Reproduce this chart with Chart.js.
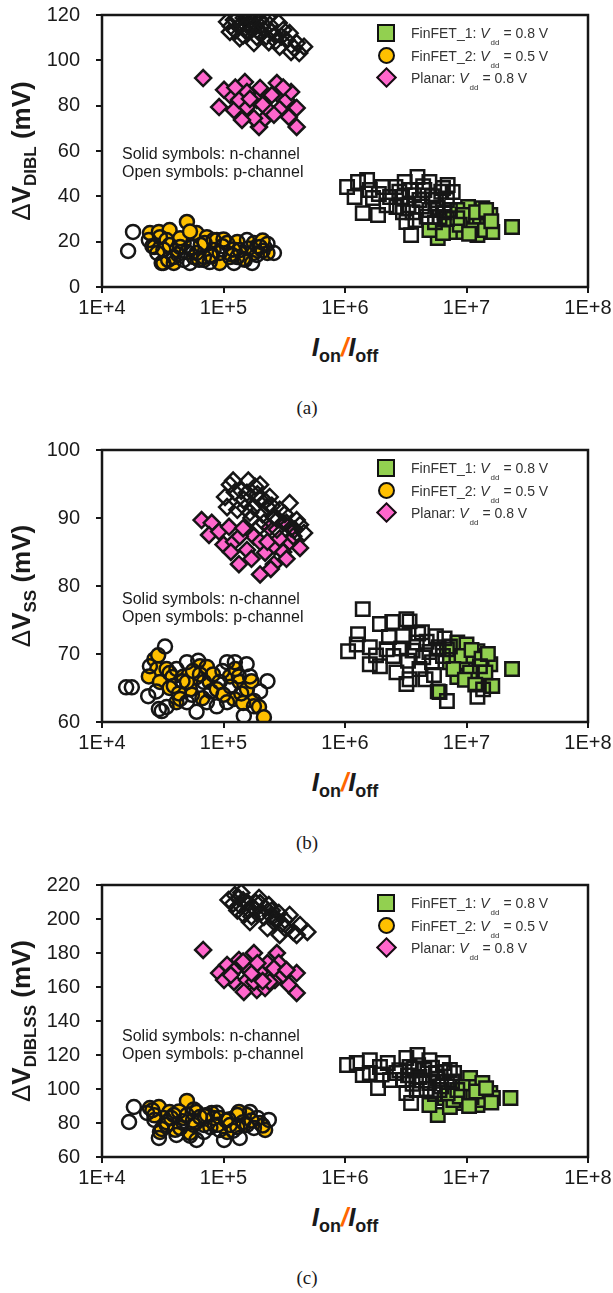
<!DOCTYPE html>
<html>
<head>
<meta charset="utf-8">
<script src="https://cdn.jsdelivr.net/npm/chart.js@4.4.0/dist/chart.umd.min.js"></script>
<style>
body { margin: 0; background: #fff; width: 613px; height: 1293px; position: relative; overflow: hidden;
       font-family: "Liberation Sans", Arial, sans-serif; color: #1a1a1a; }
.panel { position: absolute; left: 0; width: 613px; height: 430px; }
.panel canvas { position: absolute; left: 0; top: 0; }
.ytitle { position: absolute; left: -129px; top: 136px; width: 300px; height: 30px; line-height: 30px;
          text-align: center; transform: rotate(-90deg); font-weight: bold; font-size: 26px; white-space: nowrap; }
.ytitle .dl { font-weight: normal; }
.ytitle .ysub { font-size: 17px; position: relative; top: 6px; }
.xtitle { position: absolute; left: 195px; top: 332px; width: 300px; line-height: 30px; text-align: center;
          font-weight: bold; font-size: 26px; white-space: nowrap; }
.xtitle .xs { font-size: 18px; font-style: normal; position: relative; top: 6px; }
.xtitle .sl { color: #ff6600; }
.note { position: absolute; left: 122px; font-size: 16px; line-height: 18px; white-space: nowrap; }
.cap { position: absolute; left: 257px; top: 397px; width: 100px; text-align: center;
       font-family: "Liberation Serif", "Times New Roman", serif; font-size: 19px; line-height: 22px; }
.leg { position: absolute; left: 0; top: 0; }
.lrow { position: absolute; left: 0; height: 22px; width: 613px; }
.ltxt { position: absolute; left: 411px; top: 0; line-height: 22px; font-size: 14px; color: #333; white-space: nowrap; }
.ltxt sub { font-size: 8px; vertical-align: -7px; margin-left: 1px; }
.mk { position: absolute; box-sizing: border-box; border: 2.5px solid #111; }
</style>
</head>
<body>

<div class="panel" id="pA" style="top:0px">
  <canvas id="cA" width="613" height="330"></canvas>
  <div class="ytitle"><span class="dl">Δ</span>V<span class="ysub">DIBL</span> (mV)</div>
  <div class="xtitle"><i>I</i><span class="xs">on</span><i class="sl">/</i><i>I</i><span class="xs">off</span></div>
  <div class="note" style="top:145px">Solid symbols: n-channel<br>Open symbols: p-channel</div>
  <div class="cap">(a)</div>
</div>

<div class="panel" id="pB" style="top:435px">
  <canvas id="cB" width="613" height="330"></canvas>
  <div class="ytitle"><span class="dl">Δ</span>V<span class="ysub">SS</span> (mV)</div>
  <div class="xtitle"><i>I</i><span class="xs">on</span><i class="sl">/</i><i>I</i><span class="xs">off</span></div>
  <div class="note" style="top:155px">Solid symbols: n-channel<br>Open symbols: p-channel</div>
  <div class="cap">(b)</div>
</div>

<div class="panel" id="pC" style="top:870px">
  <canvas id="cC" width="613" height="330"></canvas>
  <div class="ytitle"><span class="dl">Δ</span>V<span class="ysub">DIBLSS</span> (mV)</div>
  <div class="xtitle"><i>I</i><span class="xs">on</span><i class="sl">/</i><i>I</i><span class="xs">off</span></div>
  <div class="note" style="top:157px">Solid symbols: n-channel<br>Open symbols: p-channel</div>
  <div class="cap">(c)</div>
</div>

<script>
// legend entries
const seriesNames = ['FinFET_1', 'FinFET_2', 'Planar'];
const seriesVdd = ['0.8', '0.5', '0.8'];
const seriesColors = ['#92d050', '#ffc000', '#ff66cc'];

// x axis: Ion/Ioff decades
const xTicks = [1e4, 1e5, 1e6, 1e7, 1e8];

// ---- (a) delta V DIBL ----
const diblFin1N = [[5.8e6,21.6],[4.95e6,25.1],[6.6e6,27.3],[7.9e6,30.9],[9.2e6,24.3],[1.03e7,35.3],[1.14e7,30.9],
  [1.23e7,22.9],[1.35e7,34.8],[1.48e7,28.2],[1.57e7,31.8],[1.63e7,24.3],[1.0e7,28.2],[8.4e6,34],[7.3e6,24.3],
  [2.37e7,26.5],[1.29e7,25.1],[9.3e6,31.8],[6.4e6,23.8],[1.1e7,25.1],[1.2e7,33],[1.45e7,34],[8.8e6,27.5],
  [1.05e7,23.5],[1.6e7,29],[6.9e6,30]];
const diblFin1P = [[1.04e6,44.1],[1.28e6,46.3],[1.52e6,47.2],[1.6e6,42.8],[1.2e6,39.7],[1.4e6,32.6],[1.87e6,31.8],
  [2.05e6,44.1],[2.35e6,39.7],[2.65e6,35.3],[3.1e6,46.3],[3.95e6,48.5],[4.95e6,46.3],[6.4e6,43.7],[7.7e6,41.9],
  [3.5e6,22.9],[3.2e6,28.7],[4.1e6,38.4],[4.95e6,34],[6.0e6,30.9],[7.3e6,34],[3.6e6,33],[2.95e6,39.7],[4.5e6,42.8],
  [8.4e6,30.4],[5.6e6,38.4],[3.4e6,42.8],[1.7e6,39.3],[2.6e6,44.1],[6.9e6,38.4],[3.3e6,36],[3.7e6,40.5],
  [4.3e6,35.5],[4.7e6,31],[5.2e6,40],[5.8e6,35],[6.2e6,42],[3.8e6,29.5],[4.4e6,44.5],[2.8e6,42],[2.2e6,36],
  [1.9e6,41],[5.5e6,28.5],[6.6e6,33],[7.0e6,45],[3.0e6,33]];
const diblFin2N = [[2.48e4,23.8],[2.94e4,24.3],[3.6e4,25.1],[5.0e4,28.7],[6.0e4,23.8],[7.3e4,22],[8.8e4,20.7],
  [1.1e5,18.5],[1.3e5,19.9],[1.78e5,19.4],[2.2e5,17.2],[2.3e5,15],[3.1e4,10.6],[3.9e4,10.6],[4.1e4,16.3],
  [5.7e4,13.2],[9.3e4,10.6],[1.36e5,15],[2.7e4,17.6],[6.9e4,11.9],[4.7e4,19.4],[1.13e5,13.2],[1.78e5,15],
  [3.4e4,20.7],[8.3e4,16.3],[3.2e4,16.5],[4.4e4,21.5],[5.3e4,24.5],[6.5e4,18.5],[7.8e4,14],[1.0e5,21],
  [1.2e5,16.5],[1.5e5,12],[1.9e5,18],[2.1e5,20.5]];
const diblFin2P = [[1.64e4,15.9],[1.8e4,24.3],[2.43e4,20.7],[2.85e4,15],[3.2e4,10.6],[3.9e4,13.2],[4.4e4,17.6],
  [5.3e4,10.6],[6.0e4,15],[7.0e4,19.4],[7.7e4,11],[9.3e4,15],[1.07e5,19.4],[1.22e5,10.6],[1.36e5,16.3],
  [1.56e5,20.7],[1.72e5,10.6],[2.0e5,17.6],[2.6e5,15],[3.6e4,18.5],[5.0e4,15.4],[6.9e4,13.2],[1.3e5,13.2],
  [1.88e5,14.1],[8.3e4,20.7],[4.7e4,11.9],[2.6e4,18],[3.0e4,22],[3.5e4,12],[4.2e4,14.5],[5.5e4,17.5],[6.3e4,12],
  [8.0e4,13.5],[9.8e4,18],[1.15e5,14.5],[1.45e5,12.5],[1.6e5,17],[2.1e5,16],[2.3e5,19]];
const diblPlanarN = [[6.8e4,92.2],[9.2e4,79.4],[1.13e5,84.7],[1.22e5,78],[1.5e5,90.4],[1.56e5,86],[1.56e5,79.4],
  [1.88e5,82.5],[1.96e5,70.6],[2.2e5,74.5],[2.0e5,87.8],[2.75e5,90],[2.85e5,84.7],[3.0e5,79.4],[3.45e5,75],
  [4.0e5,70.6],[4.0e5,79],[2.35e5,78],[1.78e5,74.5],[1.42e5,73.7],[1.34e5,82.5],[1.01e5,87],[2.5e5,84.7],
  [3.3e5,82.5],[3.6e5,86],[1.65e5,83],[2.1e5,80.5],[2.6e5,76],[1.25e5,88],[3.1e5,88]];
const diblPlanarP = [[1.07e5,117],[1.22e5,117.8],[1.34e5,114.7],[1.47e5,118.7],[1.56e5,112.5],[1.72e5,116.5],
  [1.88e5,110.3],[2.0e5,117.8],[2.15e5,113.4],[2.36e5,108],[2.4e5,115.6],[2.65e5,111.2],[2.9e5,106],[3.1e5,113.4],
  [3.3e5,109],[3.6e5,103.7],[4.0e5,107.6],[4.2e5,103.2],[1.78e5,107.6],[1.36e5,109.8],[1.13e5,112.5],[1.65e5,119],
  [2.3e5,119],[2.85e5,116.5],[3.5e5,112],[4.6e5,106],[1.15e5,115],[1.25e5,113],[1.4e5,116],[1.5e5,114],
  [1.6e5,116.5],[1.45e5,111],[1.7e5,113.5],[1.85e5,115],[1.95e5,112.5],[2.1e5,116],[2.25e5,110.5],[1.3e5,118.5],
  [1.8e5,118.5],[2.5e5,112.5],[2.7e5,108.5],[3.0e5,110.5],[3.8e5,105.5]];

// ---- (b) delta V SS ----
const ssFin1N = [[8.4e6,71.7],[1.0e7,71.4],[1.23e7,70.4],[1.27e7,68.5],[1.57e7,68.5],[1.63e7,65.3],[1.23e7,66],
  [9.3e6,68.8],[8.4e6,66.6],[5.8e6,64.5],[7.3e6,68.8],[2.37e7,67.8],[1.07e7,67.3],[6.9e6,70.7],[1.43e7,67.3],
  [9.1e6,69.7],[7.8e6,67.8],[1.14e7,69.7],[1.1e7,70.6],[1.33e7,69.3],[9.7e6,66.2],[1.5e7,70],[1.18e7,65.5]];
const ssFin1P = [[1.4e6,76.6],[1.94e6,74.4],[2.45e6,74.7],[3.2e6,75.1],[3.4e6,74.8],[1.06e6,70.4],[1.28e6,72.9],
  [1.25e6,71.4],[1.6e6,68.5],[1.94e6,68.2],[2.65e6,67.3],[3.2e6,65.6],[4.3e6,73.2],[5.6e6,72.6],[3.9e6,71.7],
  [4.95e6,70.3],[2.2e6,70.7],[1.6e6,71],[6.4e6,69.7],[4.1e6,67.8],[3.4e6,66.3],[7.3e6,71.1],[3.0e6,72.6],
  [2.5e6,69.7],[6.0e6,64.4],[1.29e7,68.2],[1.37e7,64.8],[1.23e7,63.7],[6.9e6,63.1],[3.6e6,70.5],[4.4e6,69.5],
  [4.7e6,71.8],[5.2e6,68.8],[5.9e6,71],[3.3e6,69],[2.9e6,70.8],[4.0e6,73],[6.6e6,72.3],[2.3e6,72.5],[1.8e6,69.8],
  [5.4e6,66.9],[4.6e6,66.3]];
const ssFin2N = [[2.7e4,69.2],[2.85e4,67.8],[2.43e4,66.7],[3.4e4,67.8],[3.8e4,66.6],[4.7e4,66.7],[5.3e4,64.8],
  [6.4e4,68.2],[7.3e4,68.1],[6.0e4,66.6],[7.7e4,65.9],[1.13e5,66.7],[1.36e5,65.9],[1.56e5,64.8],[1.78e5,63.1],
  [1.96e5,62.2],[2.15e5,60.7],[1.22e5,63.4],[4.1e4,62.9],[8.8e4,64.8],[5.0e4,65.9],[3.0e4,65.9],[2.9e4,69.8],
  [3.6e4,65],[4.3e4,64.2],[5.6e4,67.5],[6.7e4,63.5],[8.2e4,67],[1.0e5,64],[1.25e5,67.8],[1.45e5,62.8],[1.7e5,66]];
const ssFin2P = [[1.58e4,65.1],[1.76e4,65.1],[2.4e4,63.8],[3.3e4,71.1],[2.94e4,61.9],[3.4e4,62.2],[5.0e4,68.8],
  [6.0e4,61.5],[7.3e4,62.9],[1.07e5,68.8],[1.24e5,68.8],[1.34e5,66.7],[1.65e5,66.7],[2.3e5,66],[1.78e5,62.3],
  [1.47e5,60.9],[3.9e4,65.3],[4.4e4,63.4],[9.3e4,65.9],[6.9e4,65.9],[1.07e5,62.9],[2.48e4,68.2],[5.0e4,62.9],
  [8.8e4,62.3],[4.1e4,67.8],[2.8e4,64.5],[3.6e4,67.2],[4.6e4,66],[5.5e4,64],[6.4e4,67],[7.9e4,64.5],[9.8e4,67.5],
  [1.15e5,65.2],[1.4e5,64.2],[1.55e5,68.5],[2.0e5,64.5],[6.2e4,69],[3.1e4,61.6]];
const ssPlanarN = [[6.6e4,89.7],[8.0e4,89.3],[7.6e4,87.5],[9.2e4,88],[1.0e5,86.1],[1.22e5,86.5],[1.11e5,88.7],
  [1.34e5,83.2],[1.56e5,85.3],[2.0e5,81.7],[2.2e5,84.9],[2.6e5,83.2],[1.78e5,87.3],[2.0e5,86.5],[2.65e5,85.8],
  [3.5e5,86.5],[3.85e5,88.3],[3.1e5,85],[1.36e5,87.3],[3.1e5,89.3],[2.4e5,88.6],[4.26e5,85.6],[1.15e5,85],
  [1.45e5,88.5],[1.7e5,84],[2.3e5,86.5],[2.9e5,87],[3.3e5,84],[2.45e5,82.5]];
const ssPlanarP = [[1.13e5,94.9],[1.24e5,93.8],[1.82e5,94.6],[2.0e5,94.9],[3.5e5,92.2],[1.03e5,93.1],[1.47e5,92.7],
  [1.65e5,90.8],[2.3e5,91.6],[2.6e5,90.2],[3.3e5,89.3],[4.26e5,89],[4.6e5,87.8],[4.0e5,89.7],[1.3e5,91.2],
  [1.56e5,93.7],[2.0e5,92.7],[2.4e5,93.1],[1.78e5,91.6],[2.9e5,91.2],[1.07e5,91.6],[3.75e5,87.3],[2.75e5,88.3],
  [2.15e5,89.3],[1.4e5,94],[1.6e5,95.5],[1.9e5,93.5],[2.2e5,92.5],[1.7e5,90],[2.5e5,91.8],[2.1e5,90.5],[1.5e5,91.5],
  [2.8e5,89.8],[3.2e5,90.6],[2.0e5,88.8],[3.6e5,88.5],[1.2e5,95.5]];

// ---- (c) delta V DIBLSS ----
const dsFin1N = [[5.8e6,84.7],[4.95e6,90.6],[6.6e6,94.7],[8.4e6,99.4],[9.2e6,91.8],[1.07e7,106.5],[1.14e7,101.2],
  [1.23e7,90.6],[1.35e7,103.5],[1.43e7,94.7],[1.57e7,97.6],[1.65e7,94.7],[1.0e7,96.5],[7.3e6,89.4],[2.3e7,94.7],
  [1.29e7,93.5],[9.3e6,101.2],[7.8e6,93.5],[1.1e7,95.3],[1.2e7,98.5],[1.45e7,100.5],[8.8e6,95.5],[1.05e7,90],
  [1.6e7,92],[7.0e6,97.5]];
const dsFin1P = [[1.04e6,114.1],[1.25e6,115.3],[1.4e6,108.2],[1.6e6,117],[1.94e6,112.9],[1.87e6,100.6],
  [2.25e6,115.3],[2.65e6,109.4],[3.2e6,118.2],[3.95e6,120],[4.95e6,117],[6.4e6,115.3],[7.3e6,111.2],[7.9e6,109.4],
  [3.5e6,91.8],[3.2e6,97.6],[4.1e6,107.1],[4.95e6,103.5],[6.0e6,99.4],[3.9e6,99.4],[3.0e6,105.3],[2.35e6,105.3],
  [1.6e6,109.4],[6.9e6,104.1],[4.5e6,111.2],[5.6e6,109.4],[3.4e6,112.9],[8.4e6,99.4],[3.3e6,108],[3.7e6,112],
  [4.3e6,105],[4.7e6,100],[5.2e6,112.5],[5.8e6,106],[6.2e6,101.5],[3.6e6,103],[4.0e6,114],[2.8e6,111],[2.0e6,108.5],
  [5.5e6,97],[6.6e6,110],[7.6e6,104.5]];
const dsFin2N = [[2.48e4,88.8],[2.94e4,89.4],[3.6e4,86.5],[5.0e4,93],[6.0e4,86.5],[8.0e4,85.9],[9.3e4,83],
  [1.22e5,83],[1.47e5,78.8],[2.0e5,80],[2.2e5,75.9],[3.0e4,74.7],[3.9e4,78.8],[5.3e4,74.1],[6.9e4,78.8],
  [1.07e5,74.7],[4.7e4,83],[3.2e4,83],[1.56e5,84.7],[6.0e4,80.6],[8.5e4,78.8],[1.34e5,86.5],[2.7e4,84.5],
  [3.4e4,80.5],[4.3e4,86.8],[5.6e4,81.5],[7.0e4,84],[9.0e4,79],[1.1e5,82],[1.3e5,77.5],[1.7e5,81.5],[4.0e4,76]];
const dsFin2P = [[1.67e4,80.6],[1.83e4,89.4],[2.35e4,85.9],[2.7e4,81.8],[2.94e4,71.2],[3.4e4,78.8],[4.1e4,73],
  [5.0e4,84.7],[6.0e4,70],[6.9e4,74.7],[8.3e4,83],[1.01e5,70],[1.13e5,78.8],[1.36e5,71.2],[1.65e5,86.5],
  [1.78e5,77.1],[2.36e5,81.8],[3.9e4,84.7],[5.7e4,78.8],[9.3e4,75.9],[1.3e5,84.7],[4.4e4,77.1],[7.3e4,84.7],
  [1.56e5,78.8],[2.6e4,87.5],[3.1e4,76.5],[3.7e4,83],[4.6e4,81],[5.3e4,72.5],[6.4e4,83.5],[7.8e4,77.5],[8.8e4,86],
  [1.05e5,81.5],[1.2e5,75.5],[1.45e5,80.5],[1.9e5,83],[2.1e5,78.5],[5.7e4,88]];
const dsPlanarN = [[6.8e4,181.8],[9.2e4,168.2],[1.07e5,173],[1.24e5,170],[1.56e5,171.2],[1.78e5,180],[1.34e5,175.9],
  [1.22e5,163],[1.56e5,164.1],[1.88e5,158.2],[2.2e5,159.4],[2.0e5,168.8],[2.65e5,164.1],[2.75e5,180],[2.85e5,174.1],
  [3.1e5,167.1],[3.45e5,161.2],[4.0e5,156.5],[4.0e5,168.2],[2.4e5,163],[1.78e5,163],[1.47e5,157.1],[1.01e5,164.1],
  [2.3e5,174.1],[1.15e5,167],[1.45e5,175],[1.7e5,168],[2.1e5,163.5],[2.6e5,171],[3.3e5,170],[1.9e5,174]];
const dsPlanarP = [[1.1e5,211.2],[1.24e5,214.1],[1.36e5,208.2],[1.47e5,202.4],[1.78e5,206.5],[1.96e5,212.4],
  [2.15e5,201.2],[2.36e5,208.2],[2.6e5,198.2],[2.85e5,203.5],[3.2e5,194.7],[3.5e5,202.4],[3.75e5,192.4],
  [4.26e5,196.5],[4.0e5,190.6],[1.65e5,198.2],[1.34e5,212.4],[2.3e5,194.7],[2.9e5,190.6],[2.0e5,209.4],
  [1.56e5,210],[3.2e5,199.4],[4.9e5,192.4],[1.2e5,209],[1.3e5,205],[1.45e5,211],[1.6e5,205.5],[1.7e5,201.5],
  [1.85e5,209.5],[2.05e5,204],[2.2e5,206.5],[2.45e5,202],[2.7e5,200.5],[3.0e5,197],[1.4e5,215.5],[2.5e5,205]];

const EDGE = '#161616';
Chart.defaults.font.family = '"Liberation Sans", Arial, sans-serif';

function series(points, style, fill, radius, order) {
  return {
    data: points.map(p => ({ x: p[0], y: p[1] })),
    pointStyle: style,
    pointRadius: radius,
    pointBackgroundColor: fill,
    pointBorderColor: EDGE,
    pointBorderWidth: 2.5,
    showLine: false,
    order: order
  };
}

const framePlugin = {
  id: 'frame',
  afterDatasetsDraw(chart) {
    const { ctx, chartArea: a } = chart;
    ctx.save();
    ctx.strokeStyle = EDGE;
    ctx.lineWidth = 2.5;
    ctx.strokeRect(a.left, a.top, a.right - a.left, a.bottom - a.top);
    ctx.restore();
  }
};

function makePanel(canvasId, yMin, yMax, yStep, sets) {
  const clear = 'rgba(255,255,255,0)';
  return new Chart(document.getElementById(canvasId), {
    type: 'scatter',
    data: {
      datasets: [
        series(sets[0], 'rect', seriesColors[0], 9.5, 1),
        series(sets[2], 'circle', seriesColors[1], 7, 1),
        series(sets[4], 'rectRot', seriesColors[2], 8, 1),
        series(sets[1], 'rect', clear, 9.5, 0),
        series(sets[3], 'circle', clear, 7, 0),
        series(sets[5], 'rectRot', clear, 8, 0)
      ]
    },
    options: {
      responsive: false,
      animation: false,
      layout: { autoPadding: false, padding: { top: 15, right: 25, left: 0, bottom: 0 } },
      plugins: { legend: { display: false }, tooltip: { enabled: false } },
      scales: {
        x: {
          type: 'logarithmic', min: 1e4, max: 1e8,
          afterBuildTicks: s => { s.ticks = xTicks.map(v => ({ value: v })); },
          afterFit: s => { s.height = 43; s.paddingLeft = 0; s.paddingRight = 0; },
          ticks: { callback: v => '1E+' + Math.round(Math.log10(v)), font: { size: 20 }, color: '#1a1a1a',
                   padding: 3, maxRotation: 0, autoSkip: false },
          grid: { display: true, drawOnChartArea: false, drawTicks: true, tickLength: 6, color: EDGE, lineWidth: 2 },
          border: { display: false }
        },
        y: {
          min: yMin, max: yMax,
          afterFit: s => { s.width = 102; s.paddingTop = 0; s.paddingBottom = 0; },
          ticks: { stepSize: yStep, font: { size: 20 }, color: '#1a1a1a', padding: 16 },
          grid: { display: true, drawOnChartArea: false, drawTicks: true, tickLength: 6, color: EDGE, lineWidth: 2 },
          border: { display: false }
        }
      }
    },
    plugins: [framePlugin]
  });
}

makePanel('cA', 0, 120, 20, [diblFin1N, diblFin1P, diblFin2N, diblFin2P, diblPlanarN, diblPlanarP]);
makePanel('cB', 60, 100, 10, [ssFin1N, ssFin1P, ssFin2N, ssFin2P, ssPlanarN, ssPlanarP]);
makePanel('cC', 60, 220, 20, [dsFin1N, dsFin1P, dsFin2N, dsFin2P, dsPlanarN, dsPlanarP]);

// legend inside each plot (html, markers drawn with css)
const rowCenters = [33, 55.5, 77.5];
['pA', 'pB', 'pC'].forEach(pid => {
  const leg = document.createElement('div');
  leg.className = 'leg';
  seriesNames.forEach((name, i) => {
    const row = document.createElement('div');
    row.className = 'lrow';
    row.style.top = (rowCenters[i] - 11) + 'px';
    const mk = document.createElement('div');
    mk.className = 'mk';
    mk.style.background = seriesColors[i];
    if (i === 0) { mk.style.cssText += 'left:377px;top:2px;width:18px;height:18px;'; }
    if (i === 1) { mk.style.cssText += 'left:377.5px;top:2.5px;width:17px;height:17px;border-radius:50%;'; }
    if (i === 2) { mk.style.cssText += 'left:378.5px;top:3.5px;width:15px;height:15px;transform:rotate(45deg);'; }
    row.appendChild(mk);
    const t = document.createElement('div');
    t.className = 'ltxt';
    t.innerHTML = name + ': <i>V</i><sub>dd</sub> = ' + seriesVdd[i] + ' V';
    row.appendChild(t);
    leg.appendChild(row);
  });
  document.getElementById(pid).appendChild(leg);
});
</script>
</body>
</html>
